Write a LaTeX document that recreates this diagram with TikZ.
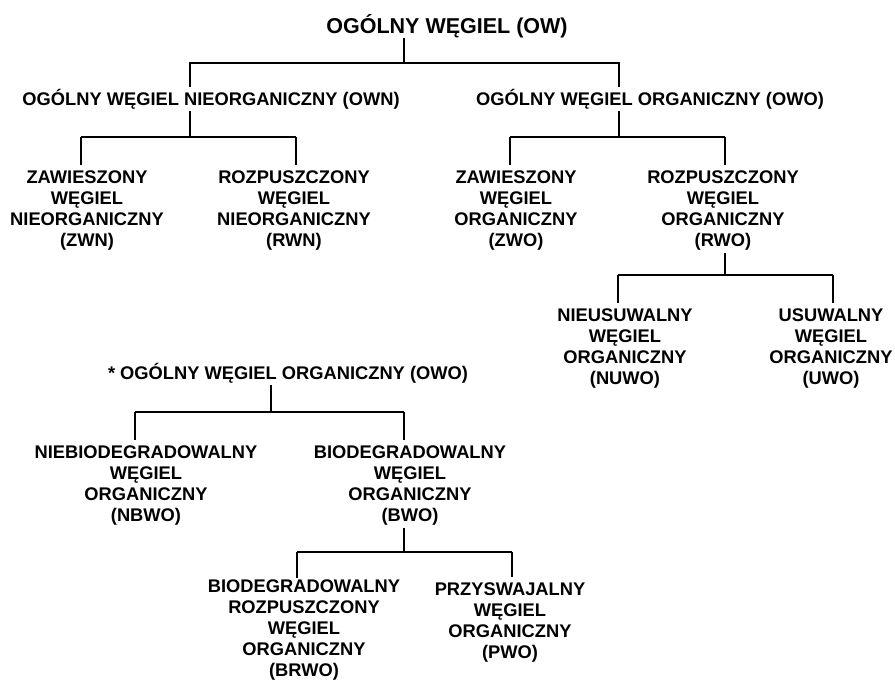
\documentclass[tikz,border=0pt]{standalone}
\usepackage{fontspec}
\setmainfont{Liberation Sans}
\begin{document}
\begin{tikzpicture}[x=1pt,y=-1pt,
  lbl/.style={inner sep=0pt, outer ysep=2pt, align=center, text=black,
    font=\bfseries\fontsize{18.3}{21}\selectfont},
  ttl/.style={inner sep=0pt, outer ysep=0pt, text=black,
    font=\bfseries\fontsize{21.5}{25}\selectfont},
  conn/.style={line width=1.4pt, black},
  tochild/.style={conn, shorten >=4pt}]
\useasboundingbox (0,0) rectangle (895,680);

% nodes
\node[ttl, anchor=base] (ow) at (447,33.5) {OGÓLNY WĘGIEL (OW)};
\node[lbl, anchor=base] (own) at (211,105) {OGÓLNY WĘGIEL NIEORGANICZNY (OWN)};
\node[lbl, anchor=base] (owo) at (650,105) {OGÓLNY WĘGIEL ORGANICZNY (OWO)};
\node[lbl, anchor=north] (zwn) at (87,169) {ZAWIESZONY\\WĘGIEL\\NIEORGANICZNY\\(ZWN)};
\node[lbl, anchor=north] (rwn) at (294,169) {ROZPUSZCZONY\\WĘGIEL\\NIEORGANICZNY\\(RWN)};
\node[lbl, anchor=north] (zwo) at (516,169) {ZAWIESZONY\\WĘGIEL\\ORGANICZNY\\(ZWO)};
\node[lbl, anchor=north] (rwo) at (723,169) {ROZPUSZCZONY\\WĘGIEL\\ORGANICZNY\\(RWO)};
\node[lbl, anchor=north] (nuwo) at (625,307) {NIEUSUWALNY\\WĘGIEL\\ORGANICZNY\\(NUWO)};
\node[lbl, anchor=north] (uwo) at (831,307) {USUWALNY\\WĘGIEL\\ORGANICZNY\\(UWO)};
\node[lbl, anchor=base] (sowo) at (288,379) {* OGÓLNY WĘGIEL ORGANICZNY (OWO)};
\node[lbl, anchor=north] (nbwo) at (146,444) {NIEBIODEGRADOWALNY\\WĘGIEL\\ORGANICZNY\\(NBWO)};
\node[lbl, anchor=north] (bwo) at (410,444) {BIODEGRADOWALNY\\WĘGIEL\\ORGANICZNY\\(BWO)};
\node[lbl, anchor=north] (brwo) at (304,578) {BIODEGRADOWALNY\\ROZPUSZCZONY\\WĘGIEL\\ORGANICZNY\\(BRWO)};
\node[lbl, anchor=north] (pwo) at (510,581) {PRZYSWAJALNY\\WĘGIEL\\ORGANICZNY\\(PWO)};

% junction coordinates
\coordinate (j0) at (404,63);  \coordinate (j0a) at (190,63);  \coordinate (j0b) at (619,63);
\coordinate (j1) at (190,137); \coordinate (j1a) at (81,137);  \coordinate (j1b) at (296,137);
\coordinate (j2) at (619,137); \coordinate (j2a) at (510,137); \coordinate (j2b) at (725,137);
\coordinate (j3) at (725,275); \coordinate (j3a) at (618,275); \coordinate (j3b) at (833,275);
\coordinate (j4) at (271,412); \coordinate (j4a) at (135,412); \coordinate (j4b) at (404,412);
\coordinate (j5) at (404,552); \coordinate (j5a) at (297,552); \coordinate (j5b) at (512,552);

% connectors
\draw[conn] (ow.south -| j0) -- (j0);
\draw[conn] (own.north -| j0a) -- (j0a) -- (j0b) -- (owo.north -| j0b);

\draw[conn] (own.south -| j1) -- (j1);
\draw[conn] (j1a) -- (j1b);
\draw[tochild] (j1a) -- (zwn.north -| j1a);
\draw[tochild] (j1b) -- (rwn.north -| j1b);

\draw[conn] (owo.south -| j2) -- (j2);
\draw[conn] (j2a) -- (j2b);
\draw[tochild] (j2a) -- (zwo.north -| j2a);
\draw[tochild] (j2b) -- (rwo.north -| j2b);

\draw[conn] (rwo.south -| j3) -- (j3);
\draw[conn] (j3a) -- (j3b);
\draw[tochild] (j3a) -- (nuwo.north -| j3a);
\draw[tochild] (j3b) -- (uwo.north -| j3b);

\draw[conn] (sowo.south -| j4) -- (j4);
\draw[conn] (j4a) -- (j4b);
\draw[tochild] (j4a) -- (nbwo.north -| j4a);
\draw[tochild] (j4b) -- (bwo.north -| j4b);

\draw[conn] (bwo.south -| j5) -- (j5);
\draw[conn] (j5a) -- (j5b);
\draw[conn] (j5a) -- (brwo.north -| j5a);
\draw[tochild] (j5b) -- (pwo.north -| j5b);
\end{tikzpicture}
\end{document}
